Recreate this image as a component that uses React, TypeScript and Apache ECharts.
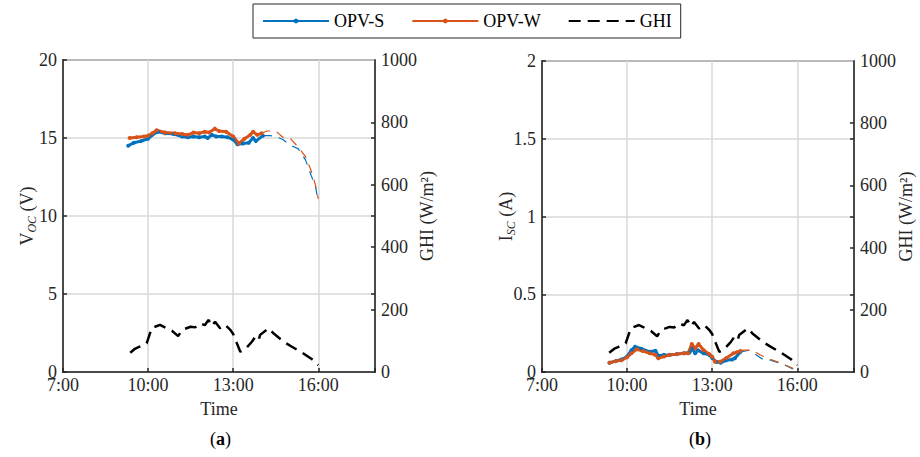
import React, { useEffect, useRef } from "react";
import * as echarts from "echarts";

const FONT = '"Liberation Serif", "Times New Roman", serif';
const INK = "#262626";
const BLUE = "#0072BD";
const ORANGE = "#D95319";

// x tick labels (hours)
const timeTicks = [7, 10, 13, 16];
const T0 = 7;
const T1 = 18;

// (a) Voc, solid (measured) parts
const aS_t = [9.3, 9.5, 9.75, 10.0, 10.15, 10.35, 10.6, 10.9, 11.2, 11.4, 11.6, 11.8, 12.0, 12.1, 12.25, 12.4, 12.6, 12.8, 13.0, 13.15, 13.35, 13.55, 13.7, 13.8, 14.05];
const aS_v = [14.5, 14.7, 14.8, 14.95, 15.2, 15.4, 15.3, 15.25, 15.1, 15.05, 15.1, 15.05, 15.1, 15.0, 15.2, 15.1, 15.1, 15.05, 14.9, 14.6, 14.65, 14.7, 15.0, 14.8, 15.15];
const aW_t = [9.35, 9.6, 9.85, 10.0, 10.15, 10.3, 10.6, 10.95, 11.2, 11.4, 11.6, 11.8, 12.0, 12.15, 12.35, 12.5, 12.75, 13.0, 13.2, 13.4, 13.6, 13.7, 13.85, 14.0];
const aW_v = [15.0, 15.05, 15.1, 15.15, 15.3, 15.5, 15.35, 15.3, 15.25, 15.2, 15.35, 15.3, 15.4, 15.35, 15.6, 15.45, 15.4, 15.1, 14.65, 14.95, 15.2, 15.4, 15.2, 15.3];
// (a) Voc, sparse tails
const aS_dt = [14.05, 14.3, 14.5, 14.75, 15.0, 15.3, 15.55, 15.75, 15.9, 16.0];
const aS_dv = [15.15, 15.15, 15.1, 14.9, 14.55, 14.3, 13.6, 12.6, 11.9, 10.9];
const aW_dt = [14.0, 14.2, 14.5, 14.75, 15.0, 15.3, 15.55, 15.75, 15.9, 16.0];
const aW_dv = [15.3, 15.45, 15.45, 15.05, 15.0, 14.4, 13.8, 12.9, 12.0, 11.1];

// (b) Isc, solid parts
const bS_t = [9.38, 9.6, 9.8, 10.0, 10.15, 10.28, 10.5, 10.8, 11.0, 11.1, 11.3, 11.5, 11.75, 12.0, 12.2, 12.3, 12.4, 12.5, 12.7, 12.9, 13.0, 13.15, 13.3, 13.5, 13.7, 13.8, 14.0];
const bS_v = [0.06, 0.07, 0.08, 0.1, 0.14, 0.163, 0.15, 0.13, 0.137, 0.105, 0.11, 0.11, 0.115, 0.12, 0.125, 0.15, 0.12, 0.14, 0.12, 0.11, 0.09, 0.065, 0.06, 0.075, 0.08, 0.088, 0.13];
const bW_t = [9.38, 9.6, 9.8, 10.0, 10.15, 10.34, 10.55, 10.8, 11.0, 11.1, 11.3, 11.5, 11.75, 12.0, 12.15, 12.28, 12.4, 12.52, 12.7, 12.9, 13.0, 13.1, 13.28, 13.5, 13.75, 13.87, 14.0];
const bW_v = [0.06, 0.07, 0.075, 0.095, 0.12, 0.146, 0.135, 0.12, 0.11, 0.088, 0.1, 0.11, 0.115, 0.12, 0.12, 0.18, 0.152, 0.18, 0.14, 0.115, 0.098, 0.066, 0.066, 0.09, 0.12, 0.127, 0.135];
// (b) Isc, sparse tails
const bS_dt = [14.0, 14.3, 14.6, 14.75, 15.0, 15.5, 16.0];
const bS_dv = [0.13, 0.14, 0.105, 0.085, 0.08, 0.05, 0.005];
const bW_dt = [14.0, 14.1, 14.4, 14.7, 15.05, 15.5, 15.93, 16.0];
const bW_dv = [0.135, 0.141, 0.141, 0.109, 0.082, 0.051, 0.017, 0.005];

// GHI (W/m2)
const ghiT = [9.37, 9.55, 9.7, 9.95, 10.13, 10.42, 10.84, 11.06, 11.2, 11.5, 11.66, 11.84, 12.0, 12.13, 12.25, 12.36, 12.54, 12.72, 12.9, 13.0, 13.13, 13.25, 13.4, 13.66, 13.78, 13.9, 13.95, 14.25, 14.42, 14.78, 15.07, 15.43, 15.78, 16.0];
const ghiV = [62, 75, 81, 92, 141, 151, 132, 115, 135, 145, 143, 156, 150, 167, 147, 161, 140, 151, 135, 122, 92, 65, 71, 97, 113, 103, 119, 140, 124, 97, 81, 62, 41, 22];

// axis ranges
const vocMax = 20, vocStep = 5;
const iscMax = 2, iscStep = 0.5;
const ghiMax = 1000, ghiStep = 200;
const ghiMirrorTicks = [200, 250, 400, 500, 600, 750, 800];

const pts = (t: number[], v: number[]) => t.map((h, i) => [h - T0, v[i]]);

export default function App() {
  const ref = useRef<HTMLDivElement>(null);
  useEffect(() => {
    if (!ref.current) return;
    const chart = echarts.init(ref.current, undefined, { renderer: "svg" });

    const grids = [
      { left: 63, top: 60, width: 312, height: 312 },
      { left: 542, top: 61, width: 312, height: 311 },
    ];

    const xAxis = grids.map((_, gi) => ({
      type: "value",
      gridIndex: gi,
      min: 0,
      max: T1 - T0,
      interval: 3,
      name: "Time",
      nameLocation: "middle",
      nameGap: 28,
      nameMoveOverlap: false,
      nameTextStyle: { fontFamily: FONT, fontSize: 18, color: INK },
      axisLine: { show: true, lineStyle: { color: INK, width: 1.5 } },
      axisTick: { show: true, inside: true, length: 4, lineStyle: { color: INK, width: 1.5 } },
      axisLabel: {
        fontFamily: FONT,
        fontSize: 18,
        color: INK,
        margin: 4,
        formatter: (v: number) => (timeTicks.includes(v + T0) ? `${v + T0}:00` : ""),
      },
      splitLine: { show: true, lineStyle: { color: "#d9d9d9", width: 1.5 } },
    }));

    const leftAxis = (rich: string, gi: number) => ({
      type: "value",
      gridIndex: gi,
      position: "left",
      min: 0,
      max: gi === 0 ? vocMax : iscMax,
      interval: gi === 0 ? vocStep : iscStep,
      name: rich,
      nameLocation: "middle",
      nameGap: 25,
      nameMoveOverlap: false,
      nameTextStyle: {
        fontFamily: FONT,
        fontSize: 18,
        color: INK,
        rich: {
          n: { fontFamily: FONT, fontSize: 18, color: INK, lineHeight: 22 },
          s: { fontFamily: FONT, fontSize: 12, fontStyle: "italic", color: INK, lineHeight: 12, verticalAlign: "bottom" },
        },
      },
      axisLine: { show: true, lineStyle: { color: INK, width: 1.5 } },
      axisTick: { show: true, inside: true, length: 4, lineStyle: { color: INK, width: 1.5 } },
      axisLabel: { fontFamily: FONT, fontSize: 18, color: INK, margin: 6, formatter: (v: number) => String(v) },
      splitLine: { show: true, lineStyle: { color: "#d9d9d9", width: 1.5 } },
    });

    const rightAxis = (gi: number) => ({
      type: "value",
      gridIndex: gi,
      position: "right",
      min: 0,
      max: ghiMax,
      interval: ghiStep,
      name: "GHI (W/m²)",
      nameLocation: "middle",
      nameGap: 43,
      nameMoveOverlap: false,
      nameTextStyle: { fontFamily: FONT, fontSize: 18, color: INK },
      axisLine: { show: true, lineStyle: { color: INK, width: 1.5 } },
      axisTick: { show: true, inside: true, length: 4, customValues: ghiMirrorTicks, lineStyle: { color: INK, width: 1.5 } },
      axisLabel: { fontFamily: FONT, fontSize: 18, color: INK, margin: 6, formatter: (v: number) => String(v) },
      splitLine: { show: false },
    });

    const yAxis = [
      leftAxis("{n|V}{s|OC}{n| (V)}", 0),
      rightAxis(0),
      leftAxis("{n|I}{s|SC}{n| (A)}", 1),
      rightAxis(1),
    ];

    const solid = (name: string, color: string, data: number[][], gi: number, yi: number) => ({
      type: "line",
      name,
      xAxisIndex: gi,
      yAxisIndex: yi,
      data,
      symbol: "circle",
      symbolSize: 4,
      showSymbol: true,
      itemStyle: { color },
      lineStyle: { color, width: 3 },
      z: 3,
    });
    const tail = (name: string, color: string, data: number[][], gi: number, yi: number) => ({
      type: "line",
      name,
      xAxisIndex: gi,
      yAxisIndex: yi,
      data,
      symbol: "none",
      itemStyle: { color },
      lineStyle: { color, width: 1.2, type: [9, 7] },
      z: 3,
    });
    const ghi = (gi: number, yi: number) => ({
      type: "line",
      name: "GHI",
      xAxisIndex: gi,
      yAxisIndex: yi,
      data: pts(ghiT, ghiV),
      symbol: "none",
      itemStyle: { color: "#000" },
      lineStyle: { color: "#000", width: 2.5, type: [12, 7] },
      z: 2,
    });

    const series = [
      solid("OPV-S", BLUE, pts(aS_t, aS_v), 0, 0),
      solid("OPV-W", ORANGE, pts(aW_t, aW_v), 0, 0),
      tail("OPV-S tail", BLUE, pts(aS_dt, aS_dv), 0, 0),
      tail("OPV-W tail", ORANGE, pts(aW_dt, aW_dv), 0, 0),
      ghi(0, 1),
      solid("OPV-S", BLUE, pts(bS_t, bS_v), 1, 2),
      solid("OPV-W", ORANGE, pts(bW_t, bW_v), 1, 2),
      tail("OPV-S tail", BLUE, pts(bS_dt, bS_dv), 1, 2),
      tail("OPV-W tail", ORANGE, pts(bW_dt, bW_dv), 1, 2),
      ghi(1, 3),
    ];

    chart.setOption({
      animation: false,
      backgroundColor: "#fff",
      grid: grids.map((g) => ({ ...g, show: true, borderColor: INK, borderWidth: 1.5, backgroundColor: "transparent" })),
      xAxis,
      yAxis,
      series,
      legend: {
        left: 253,
        top: 4,
        selectedMode: false,
        itemWidth: 66,
        itemHeight: 6,
        itemGap: 27,
        borderColor: INK,
        borderWidth: 1,
        padding: [8, 9, 8, 9],
        textStyle: { fontFamily: FONT, fontSize: 18, color: "#000" },
        data: [
          { name: "OPV-S" },
          { name: "OPV-W" },
          { name: "GHI", itemStyle: { opacity: 0 } },
        ],
      },
      graphic: [
        {
          type: "text",
          left: 210,
          top: 430,
          style: {
            text: "({b|a})",
            fontFamily: FONT,
            fontSize: 18,
            fill: "#000",
            rich: { b: { fontFamily: FONT, fontSize: 18, fontWeight: "bold", fill: "#000" } },
          },
        },
        {
          type: "text",
          left: 689,
          top: 430,
          style: {
            text: "({b|b})",
            fontFamily: FONT,
            fontSize: 18,
            fill: "#000",
            rich: { b: { fontFamily: FONT, fontSize: 18, fontWeight: "bold", fill: "#000" } },
          },
        },
      ],
    });
    return () => chart.dispose();
  }, []);
  return <div ref={ref} style={{ position: "fixed", left: 0, top: 0, width: 920, height: 457 }} />;
}
